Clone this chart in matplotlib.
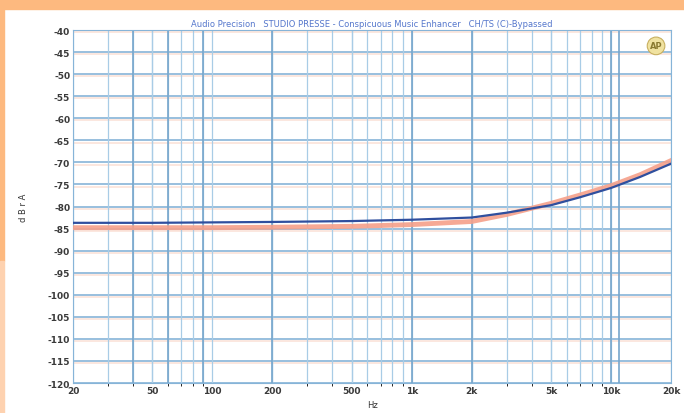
import numpy as np
import matplotlib
matplotlib.use('Agg')
import matplotlib.pyplot as plt
from matplotlib.ticker import FixedLocator, NullFormatter

# readings
freq = [20, 50, 100, 200, 500, 1000, 2000, 3000, 5000, 7000, 10000, 14000, 20000]
level_blue = [-83.7, -83.7, -83.6, -83.5, -83.3, -83.0, -82.5, -81.4, -79.7, -77.9, -75.8, -73.3, -70.3]
level_red = [-84.8, -84.8, -84.8, -84.7, -84.5, -84.1, -83.4, -81.8, -79.3, -77.4, -75.3, -72.8, -69.6]

x_ticks = [20, 50, 100, 200, 500, 1000, 2000, 5000, 10000, 20000]
x_labels = ['20', '50', '100', '200', '500', '1k', '2k', '5k', '10k', '20k']
y_ticks = list(range(-40, -121, -5))

title = 'Audio Precision   STUDIO PRESSE - Conspicuous Music Enhancer   CH/TS (C)-Bypassed'

fig = plt.figure(figsize=(6.84, 4.14), dpi=100)
fig.patch.set_facecolor('white')

# orange frame strips from the scanned page
fig.patches.append(plt.Rectangle((0, 1 - 10/414), 1, 10/414, transform=fig.transFigure,
                                 color='#fdb97f', zorder=0))
fig.patches.append(plt.Rectangle((0, 1 - 262/414), 4/684, 252/414, transform=fig.transFigure,
                                 color='#fdb97f', zorder=0))
fig.patches.append(plt.Rectangle((0, 0), 4/684, 152/414, transform=fig.transFigure,
                                 color='#fed2b0', zorder=0))

ax = fig.add_axes([73/684, 30/414, 598/684, 353/414])
ax.set_xscale('log')
ax.set_xlim(20, 20000)
ax.set_ylim(-120, -40)

minor = [m * d for d in (10, 100, 1000, 10000) for m in range(2, 10) if 20 < m * d < 20000]
ax.xaxis.set_major_locator(FixedLocator(x_ticks))
ax.xaxis.set_minor_locator(FixedLocator(minor))
ax.xaxis.set_minor_formatter(NullFormatter())
ax.set_xticklabels(x_labels)
ax.set_yticks(y_ticks)
ax.set_yticklabels([str(v) for v in y_ticks])

# grid with the faint orange shadow of the print
for v in y_ticks:
    ax.axhline(v - 0.5, color='#f7c0aa', lw=1.2, alpha=0.45, zorder=1)
    ax.axhline(v, color='#86b4d8', lw=1.2, zorder=2)
for f in minor + x_ticks:
    ax.axvline(f, color='#a8cce6', lw=0.9, zorder=2)
for f in [40, 60, 90, 200, 1000, 2000, 10000, 11000]:
    ax.axvline(f, color='#76a6cc', lw=1.2, zorder=2)

ax.plot(freq, level_red, color='#f5a08a', lw=3.5, alpha=0.9, zorder=3)
ax.plot(freq, level_blue, color='#2f4f9e', lw=1.6, zorder=4)

ax.tick_params(axis='both', length=0, labelsize=6.5, labelcolor='#3a3a3a', pad=2)
for lab in ax.get_xticklabels() + ax.get_yticklabels():
    lab.set_fontweight('bold')
for s in ax.spines.values():
    s.set_color('#86b4d8')

ax.set_title(title, fontsize=6, color='#5577cc', pad=3)
ax.set_xlabel('Hz', fontsize=6, color='#333333', labelpad=4)
ax.set_ylabel('d B r A', fontsize=6, color='#333333', labelpad=14)

ax.text(0.975, 0.955, 'AP', transform=ax.transAxes, ha='center', va='center',
        fontsize=6, color='#8a7a30', fontweight='bold',
        bbox=dict(boxstyle='circle,pad=0.3', fc='#f0e2a0', ec='#c8b060', lw=0.8), zorder=5)

fig.savefig('out.png', dpi=100)
